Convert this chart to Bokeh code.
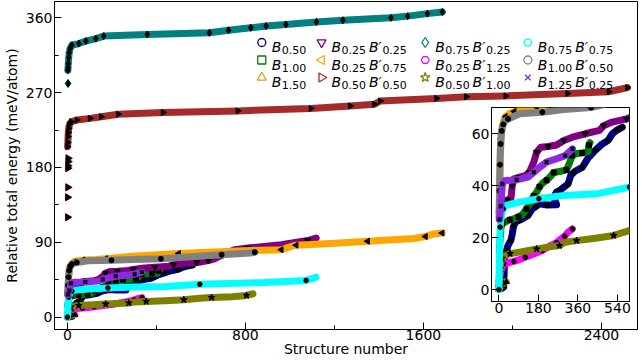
import math
from bokeh.plotting import figure
from bokeh.layouts import column
from bokeh.models import Range1d, FixedTicker, Label
from bokeh.embed import file_html
from bokeh.resources import INLINE

# ---- data: structure number (sorted by energy) vs relative total energy (meV/atom)
b050_x = [0, 10, 22, 26, 35, 42, 55, 61, 66, 75, 90, 107, 133, 152, 170, 185, 220, 263,
          250, 263, 276, 290, 315, 328, 341, 347, 380, 406, 439, 471, 497, 517, 536, 549, 562]
b050_y = [0, 0.3, 0.9, 12, 15, 17, 19, 21.4, 24, 25.9, 26.5, 27.2, 28.5, 31, 32, 33, 32.5, 32.6,
          35.5, 37.5, 38, 39, 40.6, 44, 45, 45.5, 47, 50.5, 53.5, 56, 57.3, 59.9, 61.2, 61.8, 62.4]

b100_x = [2, 4, 7, 10, 16, 30, 50, 68, 90, 107, 126, 140, 159, 172, 185, 200, 217, 235, 250,
          282, 308, 321, 334, 355, 380, 406, 410, 415]
b100_y = [14, 18, 21, 24, 25.5, 26, 26.8, 27.2, 28, 28.8, 31, 33, 36, 37.5, 39.5, 41, 42, 43.5, 45,
          45.5, 46, 48.5, 51.5, 52.3, 52.5, 53, 55.5, 56.5]

b150_x = [0, 4, 8, 14, 20, 27, 34]
b150_y = [0, 0.8, 1.5, 2.0, 2.4, 2.8, 3.0]

b025p025_x = [8, 12, 18, 29, 40, 55, 61, 68, 94, 120, 139, 159, 172, 191, 224, 263, 296, 335, 393,
              458, 477, 516, 581, 600, 633, 660, 700, 751, 812, 961, 1080, 1118]
b025p025_y = [30, 32, 33, 34, 34.5, 35, 40, 42.6, 43.2, 43.8, 45.1, 49, 52.8, 54.7, 55, 55.6, 57.3,
              58.6, 59.9, 61.2, 63, 64.4, 65.6, 66.3, 68, 70, 75, 81, 83, 87, 92, 95]

b025p075_x = [2, 4, 6, 8, 10, 13, 17, 22, 30, 45, 70, 130, 172, 291, 500, 820, 961, 1006, 1028,
              1185, 1349, 1557, 1609, 1646, 1684]
b025p075_y = [30, 40, 48, 54, 58, 61, 63, 65, 66.5, 67.5, 68.5, 69.3, 70.2, 73, 76.5, 80, 81, 85,
              86.4, 88.4, 91.2, 94.4, 96.8, 100, 101]

b050p050_x = [1, 2, 3, 4, 6, 10, 18, 43, 102, 152, 228, 430, 766, 1094, 1271, 1380, 1406, 1659,
              1793, 1970, 2248, 2433, 2517]
b050p050_y = [205, 210, 217, 222, 227, 232, 235, 237, 239, 241, 244, 246, 248, 251, 254, 256, 260,
              263, 265, 266, 269, 271, 276]
b050p050_lone_x = [1, 1, 2, 2, 2, 3, 3]
b050p050_lone_y = [120, 144, 156, 179, 182, 187, 191]

b075p025_x = [2, 3, 4, 6, 8, 12, 20, 52, 83, 128, 163, 359, 638, 724, 824, 893, 982, 1119, 1238,
              1454, 1529, 1618, 1685]
b075p025_y = [297, 300, 305, 312, 318, 323, 327, 329, 332, 335, 338, 340, 342, 345, 348, 350, 352,
              355, 357, 360, 362, 365, 367]
b075p025_lone_x = [3]
b075p025_lone_y = [281]

b025p125_x = [0, 3, 8, 16, 22, 42, 68, 94, 120, 159, 198, 237, 263, 283, 300, 315, 335]
b025p125_y = [3, 5, 7, 8.6, 9.9, 10.3, 10.8, 11.5, 12.4, 13.7, 15, 17, 18, 19.5, 20.5, 22, 23.3]

b050p100_x = [0, 3, 6, 10, 15, 25, 51, 94, 172, 224, 276, 302, 354, 440, 523, 595, 648, 740, 805, 834]
b050p100_y = [1, 4, 8, 10.5, 12, 12.9, 13.8, 14.4, 15.6, 16.3, 16.9, 18.2, 18.8, 19.7, 20.8, 22.7,
              23.5, 24.5, 26, 28]

b075p075_x = [0, 2, 4, 6, 9, 14, 20, 29, 94, 182, 296, 445, 595, 681, 886, 1073, 1110, 1117]
b075p075_y = [0, 10, 18, 24, 27, 29.5, 31, 32.3, 33.6, 34.9, 36.2, 36.8, 39.4, 40, 41.5, 44, 47, 48]

b100p050_x = [1, 2, 3, 4, 5, 6, 8, 10, 13, 16, 20, 30, 42, 94, 198, 296, 420, 522, 693, 820, 842]
b100p050_y = [27, 33, 38, 43, 48, 52, 56, 59, 61, 62.5, 63.5, 65, 65.6, 67.6, 68.2, 69.2, 70, 72,
              75, 77, 78]

b125p025_x = [3, 6, 9, 12, 16, 29, 81, 133, 159, 185, 217, 263, 302, 328, 335]
b125p025_y = [27, 30, 32, 36, 40.6, 41.9, 42.2, 43.2, 45.1, 47, 49, 50.3, 51.5, 53.5, 54.1]

# legend subscripts: (B subscript,) or (B subscript, B' subscript)
legend_subs = [("0.50",), ("1.00",), ("1.50",),
               ("0.25", "0.25"), ("0.25", "0.75"), ("0.50", "0.50"),
               ("0.75", "0.25"), ("0.25", "1.25"), ("0.50", "1.00"),
               ("0.75", "0.75"), ("1.00", "0.50"), ("1.25", "0.25")]

# axis ticks
x_major = [0, 800, 1600, 2400]
x_minor = [400, 1200, 2000]
y_major = [0, 90, 180, 270, 360]
y_minor = [45, 135, 225, 315]
inset_x_ticks = [0, 180, 360, 540]
inset_y_ticks = [0, 20, 40, 60]

FONT = "DejaVu Sans"

# per-series style: (x, y, lone x, lone y, colour, marker, black marker size, angle, mark every)
HALF_PI = math.pi / 2
series = [
    (b050_x, b050_y, None, None, "#000080", "circle", 5, 0, 2),
    (b100_x, b100_y, None, None, "#008000", "square", 5, 0, 2),
    (b150_x, b150_y, None, None, "#DAA520", "triangle", 6, 0, 2),
    (b025p025_x, b025p025_y, None, None, "#800080", "inverted_triangle", 6, 0, 2),
    (b025p075_x, b025p075_y, None, None, "#FFA500", "triangle", 6, HALF_PI, 2),
    (b050p050_x, b050p050_y, b050p050_lone_x, b050p050_lone_y, "#A52A2A", "triangle", 6, -HALF_PI, 1),
    (b075p025_x, b075p025_y, b075p025_lone_x, b075p025_lone_y, "#008080", "diamond", 7, 0, 1),
    (b025p125_x, b025p125_y, None, None, "#FF00FF", "hex", 5, 0, 2),
    (b050p100_x, b050p100_y, None, None, "#808000", "star", 7, 0, 2),
    (b075p075_x, b075p075_y, None, None, "#00FFFF", "hex", 5, 0, 3),
    (b100p050_x, b100p050_y, None, None, "#808080", "circle", 5, 0, 2),
    (b125p025_x, b125p025_y, None, None, "#8A2BE2", "x", 5, 0, 2),
]


def draw_series(fig):
    for xs, ys, lx, ly, color, marker, msize, ang, every in series:
        fig.line(xs, ys, line_color=color, line_width=7, line_cap="round", line_join="round")
        lw = 2.0 if marker == "x" else 1
        if lx is not None:
            fig.scatter(lx, ly, marker=marker, size=msize + 1.5, angle=ang,
                        fill_color=color, line_color=color)
            fig.scatter(lx, ly, marker=marker, size=msize, angle=ang,
                        fill_color="black", line_color="black", line_width=lw)
        fig.scatter(xs[::every], ys[::every], marker=marker, size=msize, angle=ang,
                    fill_color="black", line_color="black", line_width=lw)


def style_axes(fig, size="14px"):
    for ax in fig.axis:
        ax.major_tick_in = 7
        ax.major_tick_out = 0
        ax.minor_tick_in = 4
        ax.minor_tick_out = 0
        ax.major_tick_line_color = "black"
        ax.minor_tick_line_color = "black"
        ax.axis_line_color = "black"
        ax.major_label_text_font = FONT
        ax.major_label_text_font_size = size
        ax.major_label_text_color = "black"
        ax.axis_label_text_font = FONT
        ax.axis_label_text_font_size = "14px"
        ax.axis_label_text_font_style = "normal"
        ax.axis_label_text_color = "black"
    fig.grid.visible = False
    fig.outline_line_color = "black"
    fig.outline_line_width = 1


# ---- main panel
W, H = 642, 360
FL, FR, FT, FB = 52, 637, 1, 329
X0, X1 = -58, 2562
Y0, Y1 = -15, 379.6

p = figure(width=W, height=H, x_range=Range1d(X0, X1), y_range=Range1d(Y0, Y1),
           output_backend="svg", toolbar_location=None,
           min_border_left=FL, min_border_right=W - FR,
           min_border_top=FT, min_border_bottom=H - FB)
p.xaxis.ticker = FixedTicker(ticks=x_major, minor_ticks=x_minor)
p.yaxis.ticker = FixedTicker(ticks=y_major, minor_ticks=y_minor)
p.xaxis.axis_label = "Structure number"
p.yaxis.axis_label = "Relative total energy (meV/atom)"
style_axes(p)
p.xaxis.major_label_standoff = 0
p.xaxis.axis_label_standoff = -2
p.yaxis.major_label_standoff = 2
p.yaxis.axis_label_standoff = 3

draw_series(p)


def px_to_x(px):
    return X0 + (px - FL) / (FR - FL) * (X1 - X0)


def py_to_y(py):
    return Y1 - (py - FT) / (FB - FT) * (Y1 - Y0)


# ---- legend (4 columns x 3 rows, hollow markers, math-style labels)
col_px = [260, 320, 424, 527]
row_py = [42, 59.5, 77]
for i, (xs, ys, lx, ly, color, marker, msize, ang, every) in enumerate(series):
    c, r = divmod(i, 3)
    mx, my = col_px[c], row_py[r]
    p.scatter([px_to_x(mx)], [py_to_y(my)], marker=marker, size=msize + 3, angle=ang,
              fill_color=None, line_color=color, line_width=1.3)
    tx = mx + 10
    base = my + 4.5
    subs = legend_subs[i]
    pieces = [("B", tx, base, "14px", "italic"),
              (subs[0], tx + 10, base + 3.4, "11px", "normal")]
    if len(subs) > 1:
        pieces += [("B\u2032", tx + 37.5, base, "14px", "italic"),
                   (subs[1], tx + 51, base + 3.4, "11px", "normal")]
    for txt, lx_, ly_, fs, st in pieces:
        p.add_layout(Label(x=px_to_x(lx_), y=py_to_y(ly_), text=txt, text_font=FONT,
                           text_font_size=fs, text_font_style=st, text_color="black",
                           text_baseline="alphabetic", text_align="left"))

# ---- inset: zoom on the low-energy region
IL, IR, IT, IB = 470.7, 632, 107, 301
IBL, IBR, IBT, IBB = 34, 2, 2, 22
inset = figure(width=round(IR - IL) + IBL + IBR, height=round(IB - IT) + IBT + IBB,
               x_range=Range1d(-33.6, 595), y_range=Range1d(-4.6, 70),
               output_backend="svg", toolbar_location=None,
               min_border_left=IBL, min_border_right=IBR,
               min_border_top=IBT, min_border_bottom=IBB)
inset.xaxis.ticker = FixedTicker(ticks=inset_x_ticks, minor_ticks=[])
inset.yaxis.ticker = FixedTicker(ticks=inset_y_ticks, minor_ticks=[])
style_axes(inset)
inset.xaxis.major_label_standoff = 1
inset.yaxis.major_label_standoff = 2
inset.border_fill_alpha = 0
inset.background_fill_color = "white"
draw_series(inset)
inset.styles = {"position": "absolute", "left": f"{IL - IBL:.1f}px",
                "top": f"{IT - IBT:.1f}px", "z-index": "5"}

layout = column(p, inset)
open("out.html", "w").write(file_html(layout, INLINE))
